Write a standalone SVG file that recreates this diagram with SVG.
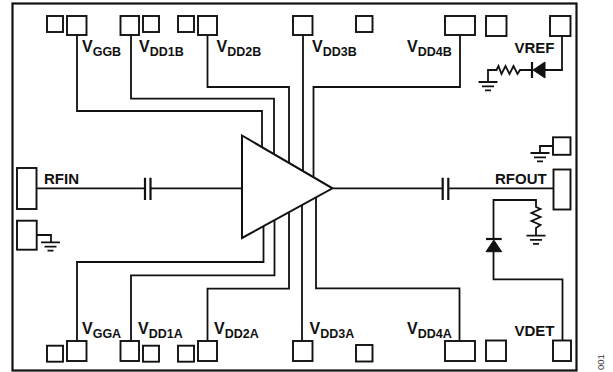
<svg xmlns="http://www.w3.org/2000/svg" width="613" height="372" viewBox="0 0 613 372">
<style>
rect,path,polygon{stroke:#111;fill:none;stroke-width:1.8}
.pad{fill:#fff;stroke-width:1.9}
.fill{fill:#111;stroke-width:1}
.tri{fill:#fff;stroke-width:2}
text{font-family:"Liberation Sans",Arial,sans-serif;font-weight:bold;font-size:15px;fill:#111}
.v{font-size:16px}
.s{font-size:12.5px}
.n{font-weight:normal;font-size:9.5px;fill:#333}
</style>
<defs>
<g id="gnd"><path d="M-9.500 0H9.500M-6 4.300H6M-3 8.300H3"/></g>
</defs>
<rect id="frame" x="12.500" y="3.500" width="564" height="367" style="stroke-width:2.200"/>
<g id="connectors">
<path d="M77 35V111H262V150"/>
<path d="M131 35V98.700H274V157"/>
<path d="M207.500 35V87H289V166"/>
<path d="M303 35V174"/>
<path d="M460 35V87H313.500V180"/>
<path d="M77 341V262H263.500V225"/>
<path d="M131 341V275.300H274.500V219"/>
<path d="M207.500 341V288.700H289V210"/>
<path d="M302 341V202"/>
<path d="M459.500 341V288.300H316V195"/>
<path d="M36 188.300H145M150.500 188.300H242"/>
<path d="M333 188.300H442.700M448.300 188.300H553.500"/>
<path d="M145 177.700V200M150.500 177.700V200M442.700 177.700V200M448.300 177.700V200" style="stroke-width:2.200"/>
</g>
<g id="amp"><polygon class="tri" points="242,135.500 332.500,188.300 242,238"/></g>
<g id="pad-a1"><rect class="pad" x="47" y="16" width="16" height="16"/></g>
<g id="pad-vggb"><rect class="pad" x="67" y="16" width="19.500" height="19"/><text class="v" x="82" y="52">V<tspan class="s" dy="3.500">GGB</tspan></text></g>
<g id="pad-vdd1b"><rect class="pad" x="120.500" y="16" width="18.500" height="19"/><text class="v" x="139" y="52">V<tspan class="s" dy="3.500">DD1B</tspan></text></g>
<g id="pad-a2"><rect class="pad" x="143" y="16" width="16" height="16"/></g>
<g id="pad-a3"><rect class="pad" x="178" y="16" width="16" height="16"/></g>
<g id="pad-vdd2b"><rect class="pad" x="198" y="16" width="19" height="19"/><text class="v" x="216.500" y="52">V<tspan class="s" dy="3.500">DD2B</tspan></text></g>
<g id="pad-vdd3b"><rect class="pad" x="293" y="16" width="19.500" height="19"/><text class="v" x="312" y="52">V<tspan class="s" dy="3.500">DD3B</tspan></text></g>
<g id="pad-a4"><rect class="pad" x="356" y="16" width="16.500" height="16"/></g>
<g id="pad-vdd4b"><rect class="pad" x="445" y="16" width="30" height="19"/><text class="v" x="407" y="52">V<tspan class="s" dy="3.500">DD4B</tspan></text></g>
<g id="pad-a5"><rect class="pad" x="486" y="16" width="20.500" height="20"/></g>
<g id="pad-vref"><rect class="pad" x="550" y="16" width="20.500" height="20"/><text x="514.500" y="53">VREF</text>
<path d="M562 36V70H545M532 70H520L517.500 74L513.500 66L509.500 74L505.500 66L501.500 74L498.500 66L496.500 70H488V82"/>
<polygon class="fill" points="545,62 545,78 533,70"/>
<path d="M532 62V78" style="stroke-width:2.200"/>
<use href="#gnd" x="488" y="82"/></g>
<g id="pad-gnd-right"><rect class="pad" x="553" y="137.300" width="17.500" height="17.500"/><path d="M553 146H540V153"/><use href="#gnd" x="540" y="153"/></g>
<g id="pad-rfout"><rect class="pad" x="553.500" y="169.500" width="17" height="40"/><text x="495" y="184">RFOUT</text></g>
<g id="pad-rfin"><rect class="pad" x="17" y="168" width="19.500" height="41"/><text x="44" y="184">RFIN</text></g>
<g id="pad-gnd-left"><rect class="pad" x="17" y="220.700" width="19.700" height="29"/><path d="M36.700 235H51V242.300"/><use href="#gnd" x="50.500" y="242.300"/></g>
<g id="pad-b1"><rect class="pad" x="47" y="345.700" width="16" height="16"/></g>
<g id="pad-vgga"><rect class="pad" x="67" y="341" width="19.500" height="20"/><text class="v" x="82" y="334">V<tspan class="s" dy="3.500">GGA</tspan></text></g>
<g id="pad-vdd1a"><rect class="pad" x="120.500" y="341" width="18.500" height="20"/><text class="v" x="138" y="334">V<tspan class="s" dy="3.500">DD1A</tspan></text></g>
<g id="pad-b2"><rect class="pad" x="143" y="345.700" width="16" height="16"/></g>
<g id="pad-b3"><rect class="pad" x="178" y="345.700" width="16" height="16"/></g>
<g id="pad-vdd2a"><rect class="pad" x="198" y="341" width="19" height="20"/><text class="v" x="214" y="334">V<tspan class="s" dy="3.500">DD2A</tspan></text></g>
<g id="pad-vdd3a"><rect class="pad" x="293" y="341" width="19.500" height="20"/><text class="v" x="309.500" y="334">V<tspan class="s" dy="3.500">DD3A</tspan></text></g>
<g id="pad-b4"><rect class="pad" x="356" y="345" width="16.500" height="16.500"/></g>
<g id="pad-vdd4a"><rect class="pad" x="445" y="341" width="30" height="20"/><text class="v" x="407" y="334">V<tspan class="s" dy="3.500">DD4A</tspan></text></g>
<g id="pad-b5"><rect class="pad" x="486" y="340.500" width="20" height="20.500"/></g>
<g id="pad-vdet"><rect class="pad" x="553" y="340.500" width="18" height="20.500"/><text x="514.500" y="336">VDET</text>
<path d="M562.500 340.500V279.300H493.500V252M493.500 239V200H536V207L540.500 209L531.500 213L540.500 217L531.500 221L540.500 225L536 228V235.600"/>
<polygon class="fill" points="486,251.700 501.700,251.700 493.800,240"/>
<path d="M486 239H501.700" style="stroke-width:2.200"/>
<use href="#gnd" x="536" y="235.600"/></g>
<text class="n" transform="translate(604 370) rotate(-90)">001</text>
</svg>
